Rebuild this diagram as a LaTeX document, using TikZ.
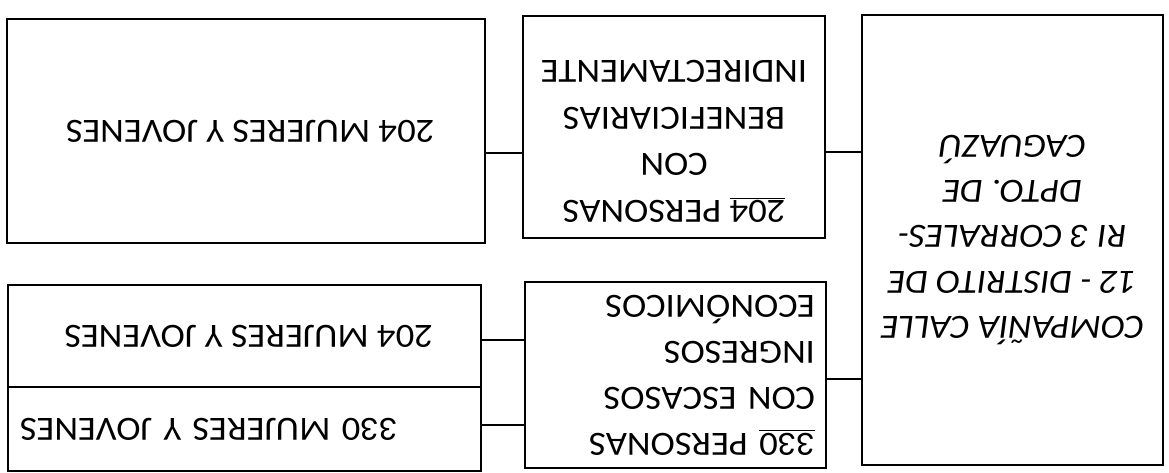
\documentclass[tikz,border=0pt]{standalone}
\usepackage{fontspec}
\setmainfont{Carlito}[FakeStretch=1.08]

\begin{document}
\begin{tikzpicture}[
    x=0.02cm, y=-0.02cm,
    box/.style = {
        rectangle,
        draw=black,
        line width=0.9pt,
        rotate=180,
        inner sep=0pt,
        align=center,
        font=\fontsize{19.3}{25.6}\selectfont
    },
    wide/.style = {box, minimum width=9.46cm},
    mid/.style = {box, minimum width=6.02cm},
    link/.style = {line width=0.9pt}
]

    % page (the whole sheet is upside down)
    \fill[white] (0,0) rectangle (1169,473);
    \useasboundingbox (0,0) rectangle (1169,473);

    % === ROOT ===
    \node[mid, minimum height=9cm, font=\fontsize{19.3}{25.8}\selectfont\itshape] (distrito) at (1012.5,240) {
        COMPAÑÍA CALLE\\
        12 - DISTRITO DE\\
        RI 3 CORRALES-\\
        DPTO. DE\\
        CAGUAZÚ
    };

    % === MIDDLE ===
    \node[mid, minimum width=6.04cm, minimum height=4.44cm, text depth=0.58cm, font=\fontsize{19.3}{26.6}\selectfont] (indirectas) at (674,127) {
        \underline{204} PERSONAS\\
        CON\\
        BENEFICIARIAS\\
        INDIRECTAMENTE
    };

    \node[mid, minimum height=3.72cm, text width=5.58cm, align=left, font=\fontsize{19.3}{26.2}\selectfont] (escasos) at (675.5,375) {
        \underline{330} PERSONAS\\
        CON ESCASOS\\
        INGRESOS\\
        ECONÓMICOS
    };

    % === LEAVES ===
    \node[wide, minimum width=9.56cm, minimum height=4.48cm] (mujeresA) at (246,131) {
        204 MUJERES Y JOVENES
    };

    \node[wide, minimum height=2.04cm] (mujeresB) at (244.5,336) {
        204 MUJERES Y JOVENES
    };

    \node[wide, minimum height=1.68cm, text width=8.98cm, align=right] (mujeresC) at (244.5,429) {
        330 MUJERES Y JOVENES
    };

    % === LINKS (west/east are turned round with the nodes) ===
    \draw[link] (mujeresA.west |- 0,153) -- (indirectas.east |- 0,153);
    \draw[link] (indirectas.west |- 0,152) -- (distrito.east |- 0,152);
    \draw[link] (mujeresB.west |- 0,340) -- (escasos.east |- 0,340);
    \draw[link] (mujeresC.west |- 0,425) -- (escasos.east |- 0,425);
    \draw[link] (escasos.west |- 0,379) -- (distrito.east |- 0,379);

\end{tikzpicture}
\end{document}
